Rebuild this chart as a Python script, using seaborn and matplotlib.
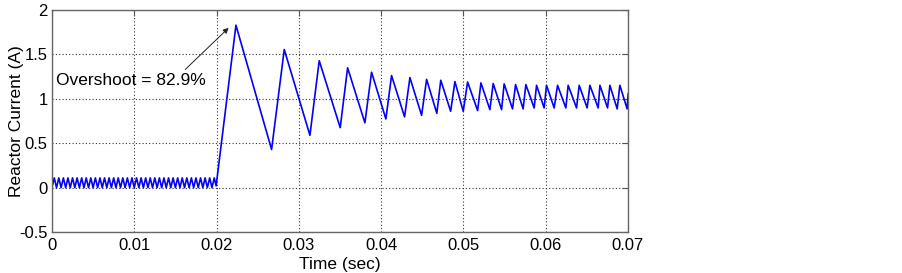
import numpy as np
import pandas as pd
import matplotlib.pyplot as plt
import seaborn as sns

# --- data (time in ms, current in A) ---
# ripple before the step: troughs / peaks
ripple_t_ms = [0.000, 0.278, 0.556, 0.833, 1.111, 1.389, 1.667, 1.944, 2.222, 2.500,
               2.778, 3.056, 3.333, 3.611, 3.889, 4.167, 4.444, 4.722, 5.000, 5.278,
               5.556, 5.833, 6.111, 6.389, 6.667, 6.944, 7.222, 7.500, 7.778, 8.056,
               8.333, 8.611, 8.889, 9.167, 9.444, 9.722, 10.000, 10.278, 10.556, 10.833,
               11.111, 11.389, 11.667, 11.944, 12.222, 12.500, 12.778, 13.056, 13.333, 13.611,
               13.889, 14.167, 14.444, 14.722, 15.000, 15.278, 15.556, 15.833, 16.111, 16.389,
               16.667, 16.944, 17.222, 17.500, 17.778, 18.056, 18.333, 18.611, 18.889, 19.167,
               19.444, 19.722]
ripple_i = [0.00, 0.11, 0.00, 0.11, 0.00, 0.11, 0.00, 0.11, 0.00, 0.11,
            0.00, 0.11, 0.00, 0.11, 0.00, 0.11, 0.00, 0.11, 0.00, 0.11,
            0.00, 0.11, 0.00, 0.11, 0.00, 0.11, 0.00, 0.11, 0.00, 0.11,
            0.00, 0.11, 0.00, 0.11, 0.00, 0.11, 0.00, 0.11, 0.00, 0.11,
            0.00, 0.11, 0.00, 0.11, 0.00, 0.11, 0.00, 0.11, 0.00, 0.11,
            0.00, 0.11, 0.00, 0.11, 0.00, 0.11, 0.00, 0.11, 0.00, 0.11,
            0.00, 0.11, 0.00, 0.11, 0.00, 0.11, 0.00, 0.11, 0.00, 0.11,
            0.00, 0.11]

# after the step at 0.02 s: turning points of the current
step_t_ms = [19.95, 22.36, 26.69, 28.23, 31.35, 32.48, 35.03, 35.93, 38.03, 38.84,
             40.58, 41.27, 42.85, 43.50, 44.92, 45.53, 46.77, 47.25, 48.45, 48.97,
             49.98, 50.51, 51.73, 52.13, 53.22, 53.62, 54.64, 54.95, 55.97, 56.34,
             57.26, 57.59, 58.60, 58.89, 59.81, 60.10, 61.03, 61.44, 62.45, 62.73,
             63.75, 64.07, 65.04, 65.37, 66.38, 66.59, 67.52, 67.80, 68.69, 69.01,
             69.90, 70.02]
step_i = [0.02, 1.83, 0.43, 1.556, 0.59, 1.43, 0.676, 1.35, 0.73, 1.30,
          0.774, 1.263, 0.797, 1.24, 0.815, 1.22, 0.837, 1.21, 0.86, 1.195,
          0.86, 1.19, 0.868, 1.18, 0.879, 1.173, 0.879, 1.169, 0.887, 1.161,
          0.887, 1.161, 0.898, 1.153, 0.898, 1.153, 0.898, 1.153, 0.898, 1.153,
          0.898, 1.153, 0.898, 1.153, 0.898, 1.153, 0.898, 1.153, 0.887, 1.153,
          0.887, 1.06]

x_ticks = [0, 0.01, 0.02, 0.03, 0.04, 0.05, 0.06, 0.07]
x_labels = ['0', '0.01', '0.02', '0.03', '0.04', '0.05', '0.06', '0.07']
y_ticks = [-0.5, 0, 0.5, 1, 1.5, 2]
y_labels = ['-0.5', '0', '0.5', '1', '1.5', '2']

df = pd.DataFrame({
    'Time': np.array(ripple_t_ms + step_t_ms) / 1000.0,
    'Current': ripple_i + step_i,
})

sns.set_style('white')
plt.rcParams['font.family'] = ['Liberation Sans', 'DejaVu Sans']

fig = plt.figure(figsize=(9.02, 2.73), dpi=100)
ax = fig.add_axes([0.0576, 0.150, 0.6386, 0.813])

sns.lineplot(data=df, x='Time', y='Current', ax=ax, color='#0000ff',
             linewidth=1.2, estimator=None, sort=False)

ax.set_xlim(0, 0.07)
ax.set_ylim(-0.5, 2)
ax.set_xticks(x_ticks)
ax.set_yticks(y_ticks)
ax.set_xticklabels(x_labels, fontsize=12, color='black')
ax.set_yticklabels(y_labels, fontsize=12, color='black')
ax.grid(True, linestyle=(0, (1, 2)), color='#333333', linewidth=0.8)
ax.tick_params(direction='in', length=4, width=0.8, color='#555555',
               top=True, right=True)
ax.tick_params(axis='x', pad=4)
ax.tick_params(axis='y', pad=3)
for s in ax.spines.values():
    s.set_color('#666666')
    s.set_linewidth(1.0)

ax.set_xlabel('Time (sec)', fontsize=12.5, color='black', va='center')
ax.xaxis.set_label_coords(0.5, -0.145)
ax.set_ylabel('Reactor Current (A)', fontsize=12.5, color='black', va='center')
ax.yaxis.set_label_coords(-0.061, 0.5)

ax.annotate('Overshoot = 82.9%', xy=(0.02147, 1.80), xytext=(0.0005, 1.21),
            fontsize=12.5, va='center', ha='left', color='black',
            arrowprops=dict(arrowstyle='-|>', color='#222222', lw=0.7,
                            mutation_scale=8, shrinkA=0, shrinkB=0,
                            relpos=(0.84, 1.0)))

fig.savefig('out.png', dpi=100)
